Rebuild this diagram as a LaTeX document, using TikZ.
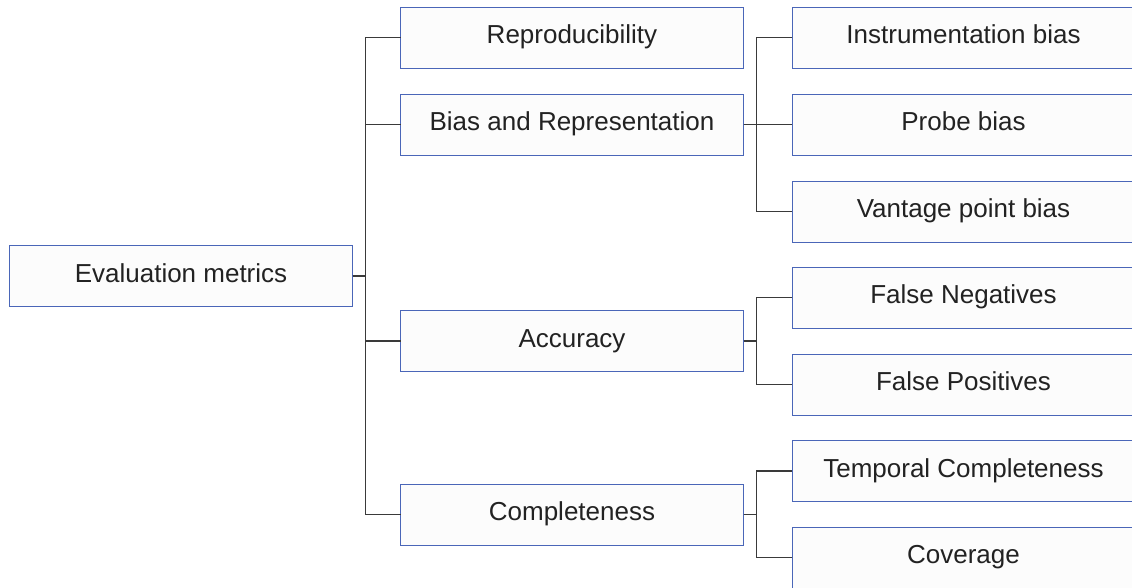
\documentclass[tikz,border=0pt]{standalone}
\usepackage{fontspec}
\setmainfont{Liberation Sans}
\definecolor{boxline}{HTML}{4A66B8}
\definecolor{boxfill}{HTML}{FCFCFC}
\definecolor{wire}{HTML}{3A3A3A}
\definecolor{ink}{HTML}{222222}
\begin{document}
\begin{tikzpicture}[x=0.75pt,y=-0.75pt,
  metric/.style={draw=boxline,fill=boxfill,line width=0.75pt,
    minimum width=257.25pt,minimum height=45.75pt,inner sep=0pt,outer sep=0pt,
    text height=14pt,text depth=4.5pt,
    text=ink,font=\fontsize{19.5}{23}\selectfont},
  link/.style={draw=wire,line width=0.8pt}]
\clip (0,0) rectangle (1132,587);
\fill[white] (0,0) rectangle (1132,587);

% root
\node[metric] (root) at (181,276) {Evaluation metrics};

% first level
\node[metric] (rep)  at (572,37.5)  {Reproducibility};
\node[metric] (bias) at (572,124.5) {Bias and Representation};
\node[metric] (acc)  at (572,341)   {Accuracy};
\node[metric] (comp) at (572,514.5) {Completeness};

% second level
\node[metric] (instr) at (963.5,37.5)  {Instrumentation bias};
\node[metric] (probe) at (963.5,124.5) {Probe bias};
\node[metric] (vant)  at (963.5,211.5) {Vantage point bias};
\node[metric] (fneg)  at (963.5,297.5) {False Negatives};
\node[metric] (fpos)  at (963.5,384.5) {False Positives};
\node[metric] (temp)  at (963.5,471)   {Temporal Completeness};
\node[metric] (cov)   at (963.5,557.5) {Coverage};

% connectors
\foreach \c in {rep,bias,acc,comp}
  \draw[link] (root.east) -- ++(13,0) |- (\c.west);
\foreach \c in {instr,probe,vant}
  \draw[link] (bias.east) -- ++(13,0) |- (\c.west);
\foreach \c in {fneg,fpos}
  \draw[link] (acc.east) -- ++(13,0) |- (\c.west);
\foreach \c in {temp,cov}
  \draw[link] (comp.east) -- ++(13,0) |- (\c.west);
\end{tikzpicture}
\end{document}
